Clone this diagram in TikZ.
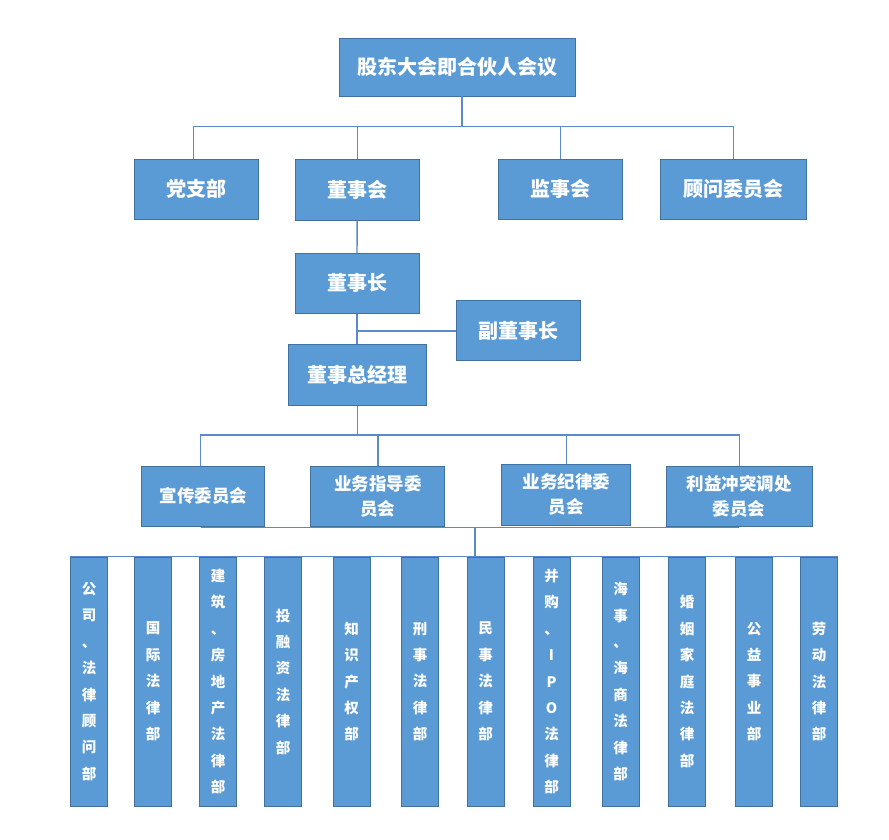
\documentclass[tikz,border=0pt]{standalone}
\usepackage{fontspec}
\newfontfamily\cjk{Noto Sans CJK SC}
\definecolor{boxfill}{HTML}{5B9BD5}
\definecolor{boxline}{HTML}{41719C}
\definecolor{connc}{HTML}{5A8BC8}
\begin{document}
\begin{tikzpicture}[x=1pt,y=-1pt,
  box/.style={draw=boxline, line width=0.9pt, fill=boxfill, text=white, inner sep=0pt,
    font=\cjk\bfseries\fontsize{20}{24}\selectfont, align=center},
  midbox/.style={box, font=\cjk\bfseries\fontsize{17.5}{25}\selectfont},
  colbox/.style={box, minimum width=37pt, minimum height=249pt,
    font=\cjk\bfseries\fontsize{14.5}{26.4}\selectfont},
  conn/.style={draw=connc, line width=1.4pt}]
\useasboundingbox[fill=white] (0,0) rectangle (889,839);

\coordinate (bus1) at (0,126.7);
\coordinate (bus2) at (0,435);
\coordinate (bus3) at (0,527.3);
\coordinate (hub) at (475,527.3);

% top levels
\node[box, minimum width=236pt, minimum height=58pt] (top) at (457,67) {股东大会即合伙人会议};
\node[box, minimum width=124pt, minimum height=60pt] (dang) at (196.8,189.3) {党支部};
\node[box, minimum width=124pt, minimum height=61pt] (dsh) at (357.2,190) {董事会};
\node[box, minimum width=124pt, minimum height=60pt] (jsh) at (560.5,189.3) {监事会};
\node[box, minimum width=146pt, minimum height=60pt] (gw) at (733.7,189.3) {顾问委员会};
\node[box, minimum width=124pt, minimum height=60pt] (dsz) at (357,283.3) {董事长};
\node[box, minimum width=124pt, minimum height=60pt] (fdsz) at (518,330.8) {副董事长};
\node[box, minimum width=138pt, minimum height=61pt] (zjl) at (357.5,374.8) {董事总经理};

% committees
\node[midbox, minimum width=123pt, minimum height=60pt] (xc) at (203.3,496) {宣传委员会};
\node[midbox, minimum width=134pt, minimum height=60pt] (zd) at (377.8,496) {业务指导委\\员会};
\node[midbox, minimum width=129pt, minimum height=61pt] (jl) at (566.3,494.5) {业务纪律委\\员会};
\node[midbox, minimum width=146pt, minimum height=60pt] (ly) at (739.2,496) {利益冲突调处\\委员会};

% departments
\node[colbox] (b1) at (89,681.5) {公\\司\\、\\法\\律\\顾\\问\\部};
\node[colbox] (b2) at (153,681.5) {国\\际\\法\\律\\部};
\node[colbox] (b3) at (218,681.5) {建\\筑\\、\\房\\地\\产\\法\\律\\部};
\node[colbox] (b4) at (283,681.5) {投\\融\\资\\法\\律\\部};
\node[colbox] (b5) at (351.5,681.5) {知\\识\\产\\权\\部};
\node[colbox] (b6) at (420,681.5) {刑\\事\\法\\律\\部};
\node[colbox] (b7) at (485.5,681.5) {民\\事\\法\\律\\部};
\node[colbox] (b8) at (551.5,681.5) {并\\购\\、\\I\\P\\O\\法\\律\\部};
\node[colbox] (b9) at (620.5,681.5) {海\\事\\、\\海\\商\\法\\律\\部};
\node[colbox] (b10) at (687,681.5) {婚\\姻\\家\\庭\\法\\律\\部};
\node[colbox] (b11) at (754,681.5) {公\\益\\事\\业\\部};
\node[colbox] (b12) at (819,681.5) {劳\\动\\法\\律\\部};

% connectors
\draw[conn] ([xshift=5pt]top.south) -- ([xshift=5pt]top.south |- bus1);
\draw[conn] ([xshift=-3.5pt]dang.north) -- ([xshift=-3.5pt]dang.north |- bus1) -- (gw.north |- bus1) -- (gw.north);
\draw[conn] (dsh.north) -- (dsh.north |- bus1);
\draw[conn] (jsh.north) -- (jsh.north |- bus1);
\draw[conn] (dsh.south) -- (dsz.north);
\draw[conn] (dsz.south) -- (dsz.south |- zjl.north);
\draw[conn] (fdsz.west) -- (fdsz.west -| dsz.south);
\draw[conn] (zjl.south) -- (zjl.south |- bus2);
\draw[conn] ([xshift=-2.6pt]xc.north) -- ([xshift=-2.6pt]xc.north |- bus2) -- (ly.north |- bus2) -- (ly.north);
\draw[conn] (zd.north) -- (zd.north |- bus2);
\draw[conn] (jl.north) -- (jl.north |- bus2);
\draw[conn] ([xshift=-2.6pt]xc.south |- bus3) -- (ly.south |- bus3);
\draw[conn] (hub) -- (hub |- b1.north);
\draw[conn] (b1.north west) -- (b12.north east);
\end{tikzpicture}
\end{document}
